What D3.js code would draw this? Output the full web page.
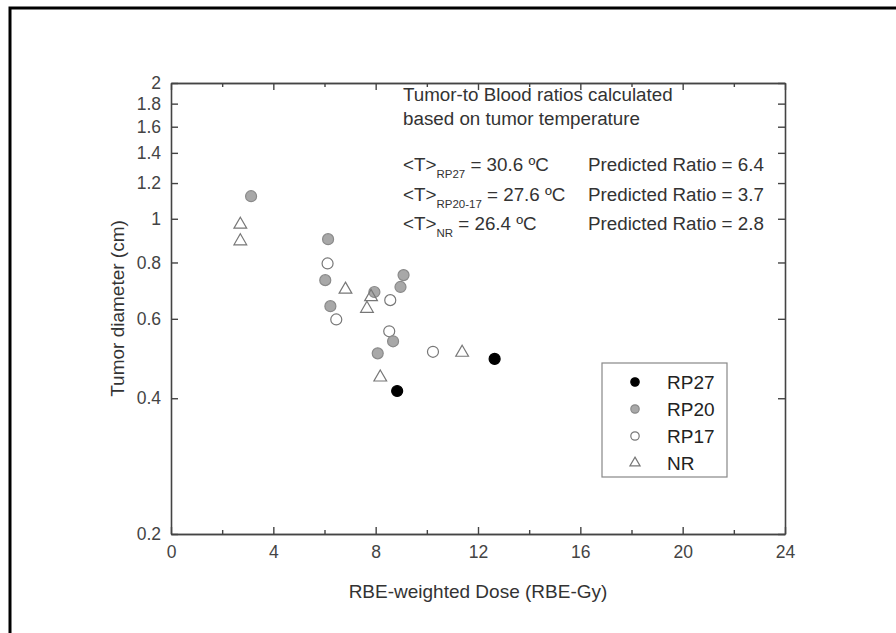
<!DOCTYPE html>
<html>
<head>
<meta charset="utf-8">
<script src="https://cdn.jsdelivr.net/npm/d3@7"></script>
<style>
  body { margin: 0; background: #fff; }
  svg { font-family: "Liberation Sans", Arial, sans-serif; }
</style>
</head>
<body>
<svg></svg>
<script>
// values
const rp27Dose = [8.84, 12.65],
      rp27Diam = [0.415, 0.489];
const rp20Dose = [3.13, 6.14, 6.03, 6.23, 7.95, 9.09, 8.97, 8.68, 8.08],
      rp20Diam = [1.122, 0.901, 0.731, 0.640, 0.688, 0.750, 0.706, 0.535, 0.503];
const rp17Dose = [6.12, 6.46, 8.57, 8.53, 10.24],
      rp17Diam = [0.796, 0.598, 0.660, 0.563, 0.507];
const nrDose = [2.71, 2.71, 6.82, 7.82, 7.66, 8.18, 11.38],
      nrDiam = [0.971, 0.892, 0.697, 0.671, 0.632, 0.445, 0.505];

const xTicks = [0, 4, 8, 12, 16, 20, 24],
      xMinor = [2, 6, 10, 14, 18, 22],
      yTicks = [0.2, 0.4, 0.6, 0.8, 1, 1.2, 1.4, 1.6, 1.8, 2];

const seriesNames = ["RP27", "RP20", "RP17", "NR"];

let width = 896, height = 633,
    margin = {left: 171, right: 111, top: 83, bottom: 99},
    xScale = d3.scaleLinear().domain([0, 24]).range([margin.left, width - margin.right]),
    yScale = d3.scaleLog().domain([0.2, 2]).range([height - margin.bottom, margin.top]),
    axisColor = "#444",
    fmt = d => d3.format("")(+d.toFixed(1));

let svg = d3.select("svg").attr("width", width).attr("height", height);

// outer frame (left and top edges)
svg.append("path")
    .attr("d", `M10,${height} V8 H${width}`)
    .attr("fill", "none").attr("stroke", "#000").attr("stroke-width", 3);

function styleAxis(g, showLabels) {
  g.select(".domain").attr("stroke", axisColor).attr("stroke-width", 1.6);
  g.selectAll(".tick line").attr("stroke", axisColor).attr("stroke-width", 1.4);
  g.selectAll(".tick text").attr("fill", "#444").attr("font-size", 17.5)
    .style("display", showLabels ? null : "none");
}

// bottom
svg.append("g").attr("transform", `translate(0,${yScale.range()[0]})`)
  .call(d3.axisBottom(xScale).tickValues(xMinor).tickSize(-4).tickSizeOuter(0).tickFormat(""))
  .call(g => styleAxis(g, false));
svg.append("g").attr("transform", `translate(0,${yScale.range()[0]})`)
  .call(d3.axisBottom(xScale).tickValues(xTicks).tickSize(-7).tickSizeOuter(0).tickPadding(12))
  .call(g => styleAxis(g, true));
// top
svg.append("g").attr("transform", `translate(0,${yScale.range()[1]})`)
  .call(d3.axisTop(xScale).tickValues(xMinor).tickSize(-4).tickSizeOuter(0).tickFormat(""))
  .call(g => styleAxis(g, false));
svg.append("g").attr("transform", `translate(0,${yScale.range()[1]})`)
  .call(d3.axisTop(xScale).tickValues(xTicks).tickSize(-7).tickSizeOuter(0).tickFormat(""))
  .call(g => styleAxis(g, false));
// left
svg.append("g").attr("transform", `translate(${xScale.range()[0]},0)`)
  .call(d3.axisLeft(yScale).tickValues(yTicks).tickSize(-7).tickSizeOuter(0).tickPadding(10).tickFormat(fmt))
  .call(g => styleAxis(g, true));
// right
svg.append("g").attr("transform", `translate(${xScale.range()[1]},0)`)
  .call(d3.axisRight(yScale).tickValues(yTicks).tickSize(-7).tickSizeOuter(0).tickFormat(""))
  .call(g => styleAxis(g, false));

// axis titles
svg.append("text")
    .attr("x", (xScale.range()[0] + xScale.range()[1]) / 2)
    .attr("y", 598)
    .attr("text-anchor", "middle").attr("font-size", 19).attr("fill", "#333")
    .text("RBE-weighted Dose (RBE-Gy)");
svg.append("text")
    .attr("transform", `translate(124,${(yScale.range()[0] + yScale.range()[1]) / 2}) rotate(-90)`)
    .attr("text-anchor", "middle").attr("font-size", 19).attr("fill", "#333")
    .text("Tumor diameter (cm)");

// points
function circles(xs, ys, fill, stroke) {
  svg.append("g").selectAll("circle")
    .data(xs.map((x, i) => [x, ys[i]]))
    .enter().append("circle")
      .attr("cx", d => xScale(d[0]))
      .attr("cy", d => yScale(d[1]))
      .attr("r", 5.5)
      .attr("fill", fill)
      .attr("stroke", stroke)
      .attr("stroke-width", 1.2);
}
const tri = d3.symbol().type(d3.symbolTriangle).size(70);
circles(rp17Dose, rp17Diam, "#fff", "#777");
circles(rp20Dose, rp20Diam, "#a8a8a8", "#8a8a8a");
svg.append("g").selectAll("path")
  .data(nrDose.map((x, i) => [x, nrDiam[i]]))
  .enter().append("path")
    .attr("d", tri)
    .attr("transform", d => `translate(${xScale(d[0])},${yScale(d[1])})`)
    .attr("fill", "none").attr("stroke", "#777").attr("stroke-width", 1.2);
circles(rp27Dose, rp27Diam, "#000", "#000");

// annotation
let note = svg.append("g").attr("font-size", 18.8).attr("fill", "#333");
note.append("text").attr("x", 403).attr("y", 101).text("Tumor-to Blood ratios calculated");
note.append("text").attr("x", 403).attr("y", 125).text("based on tumor temperature");
const tempSubs = ["RP27", "RP20-17", "NR"],
      tempVals = ["30.6", "27.6", "26.4"],
      ratioVals = ["6.4", "3.7", "2.8"];
tempSubs.forEach((s, i) => {
  let y = 171 + i * 29.5;
  let t = note.append("text").attr("x", 403).attr("y", y);
  t.append("tspan").text("<T>");
  t.append("tspan").attr("font-size", 11.5).attr("dy", 7).text(s);
  t.append("tspan").attr("dy", -7).text(` = ${tempVals[i]} ºC`);
  note.append("text").attr("x", 588).attr("y", y).text(`Predicted Ratio = ${ratioVals[i]}`);
});

// legend
let legend = svg.append("g");
legend.append("rect").attr("x", 602).attr("y", 363).attr("width", 125).attr("height", 114)
    .attr("fill", "#fff").attr("stroke", "#888").attr("stroke-width", 1.2);
const legFill = ["#000", "#a8a8a8", "#fff", "none"],
      legStroke = ["#000", "#8a8a8a", "#777", "#777"];
seriesNames.forEach((name, i) => {
  let y = 382 + i * 27;
  if (name === "NR") {
    legend.append("path").attr("d", d3.symbol().type(d3.symbolTriangle).size(45))
      .attr("transform", `translate(635,${y})`)
      .attr("fill", "none").attr("stroke", legStroke[i]).attr("stroke-width", 1.2);
  } else {
    legend.append("circle").attr("cx", 635).attr("cy", y).attr("r", 4.2)
      .attr("fill", legFill[i]).attr("stroke", legStroke[i]).attr("stroke-width", 1.2);
  }
  legend.append("text").attr("x", 667).attr("y", y + 7).attr("font-size", 19).attr("fill", "#222").text(name);
});
</script>
</body>
</html>
